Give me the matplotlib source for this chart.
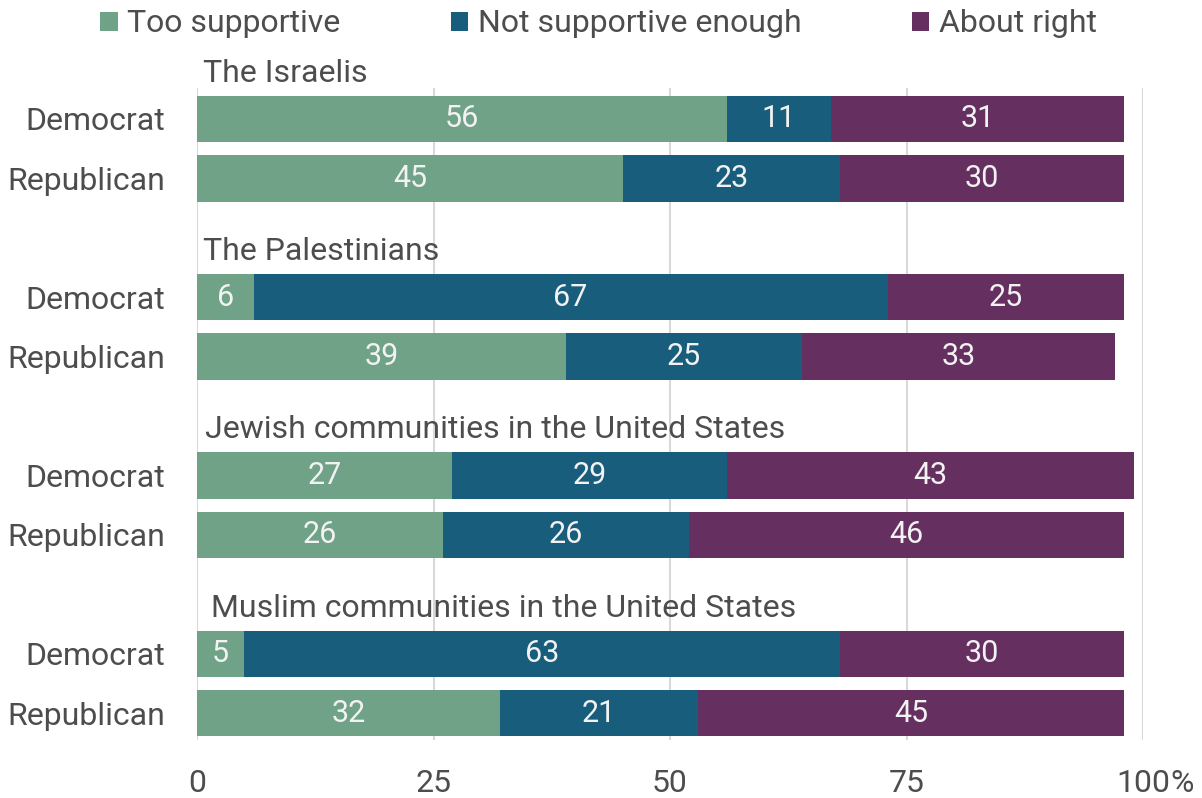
import matplotlib
matplotlib.use("Agg")
import matplotlib.pyplot as plt
import numpy as np

plt.rcParams['font.family'] = ['Roboto', 'DejaVu Sans']

groups = ["The Israelis", "The Palestinians",
          "Jewish communities in the United States",
          "Muslim communities in the United States"]
parties = ["Democrat", "Republican"]
series_names = ["Too supportive", "Not supportive enough", "About right"]
too_supportive = [56, 45, 6, 39, 27, 26, 5, 32]
not_enough = [11, 23, 67, 25, 29, 26, 63, 21]
about_right = [31, 30, 25, 33, 43, 46, 30, 45]
xticks = [0, 25, 50, 75, 100]
xticklabels = ["0", "25", "50", "75", "100"]
pct_suffix = "%"

colors = ["#6FA287", "#185D7B", "#652F60"]
text_col = "#4D4D4D"
fs = 23

fig = plt.figure(figsize=(12.02, 7.98), dpi=100)
ax = fig.add_axes([197/1202, 1-740/798, 946/1202, (740-88)/798])

positions = []
for g in range(len(groups)):
    positions += [g*3, g*3+1]
positions = np.array(positions, dtype=float)

data = [too_supportive, not_enough, about_right]
left = np.zeros(len(positions))
handles = []
for vals, col, name in zip(data, colors, series_names):
    vals = np.array(vals, dtype=float)
    bars = ax.barh(positions, vals, left=left, height=0.78, color=col,
                   label=name, zorder=3)
    handles.append(bars)
    for p, l, v in zip(positions, left, vals):
        ax.text(l + v/2, p, f"{int(v)}", ha='center', va='center',
                color="#F2F2F2", fontsize=fs-1, zorder=4)
    left += vals

title_dx = [0.6, 0.6, 0.8, 1.5]
for g, name in enumerate(groups):
    ax.text(title_dx[g], g*3 - 0.77, name, ha='left', va='center',
            color=text_col, fontsize=fs, clip_on=False, zorder=5)

ax.set_xlim(0, 100)
ax.set_ylim(10.45, -0.52)
ax.set_yticks(positions)
ax.set_yticklabels(parties*len(groups), fontsize=fs, color=text_col)
ax.set_xticks(xticks)
ax.set_xticklabels(xticklabels, fontsize=fs, color=text_col)
ax.tick_params(axis='y', length=0, pad=23)
ax.tick_params(axis='x', length=0, pad=21)
for s in ax.spines.values():
    s.set_visible(False)
ax.grid(axis='x', color="#D9D9D9", linewidth=1.5, zorder=0)
ax.set_axisbelow(True)

last_label = ax.get_xticklabels()[-1]
ax.annotate(pct_suffix, xy=(1, 0), xycoords=last_label, ha='left', va='bottom',
            fontsize=fs, color=text_col, annotation_clip=False)

leg = fig.legend(handles=handles, labels=series_names, loc='center',
                 bbox_to_anchor=(0.498, 1-24/798), ncol=3, frameon=False,
                 fontsize=fs, handlelength=0.55, handleheight=0.55,
                 handletextpad=0.3, columnspacing=3.45)
for t in leg.get_texts():
    t.set_color(text_col)

fig.savefig("out.png", dpi=100)
